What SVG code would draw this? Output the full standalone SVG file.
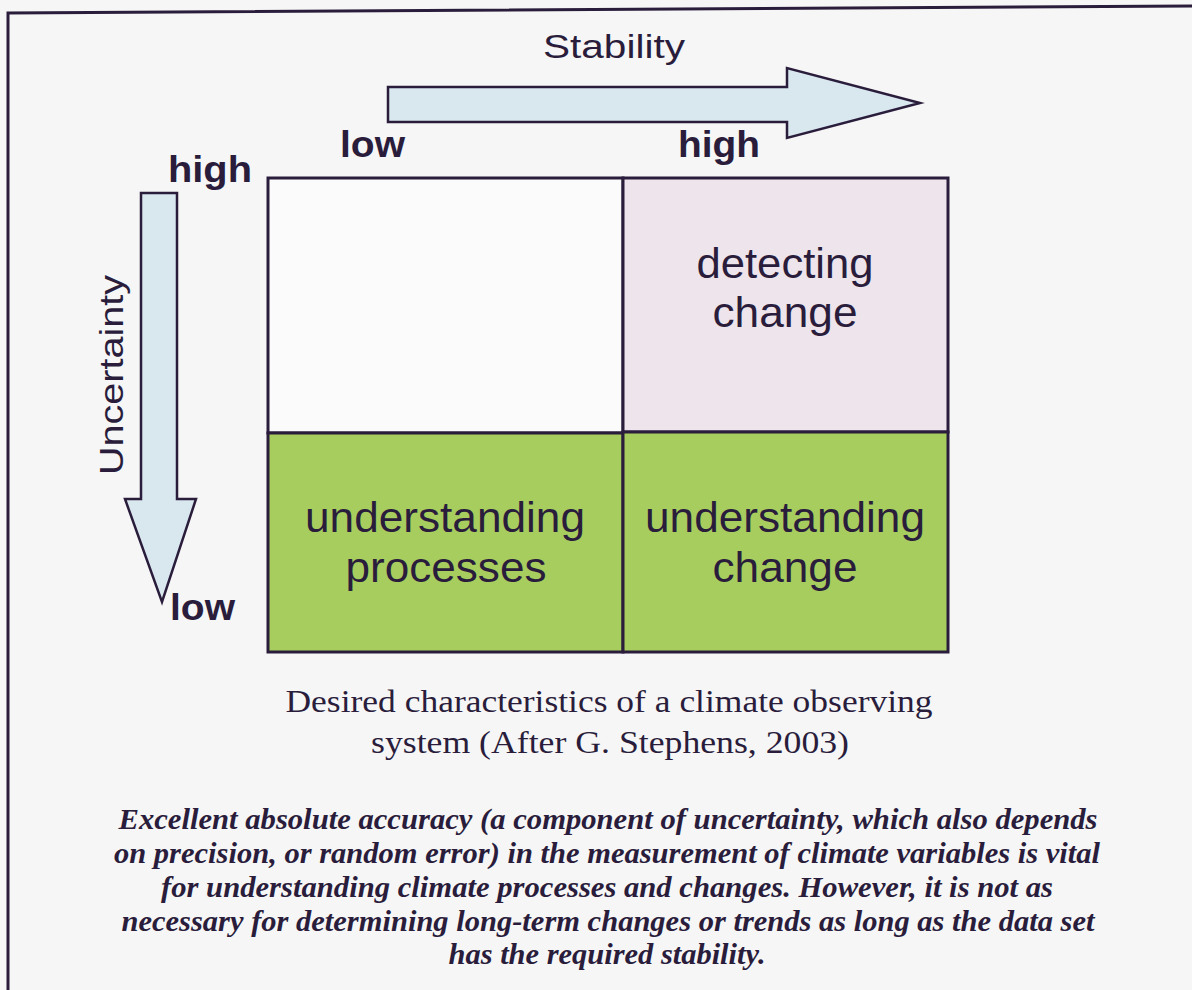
<svg xmlns="http://www.w3.org/2000/svg" width="1192" height="990" viewBox="0 0 1192 990">
<style>
.t{fill:#2a1d3c;font-family:"Liberation Sans",Arial,sans-serif}
.b{font-weight:bold;font-size:37px}
.c{font-size:42px;text-anchor:middle}
.s{font-family:"Liberation Serif","Times New Roman",serif;fill:#2a1d3c;text-anchor:middle}
.cap{font-size:32px}
.it{font-size:30px;font-style:italic;font-weight:bold}
.cell{stroke:#2a1d3c;stroke-width:3}
.arr{fill:#d9e7ee;stroke:#2a1d3c;stroke-width:2.5;stroke-linejoin:miter}
</style>
<rect width="1192" height="990" fill="#f6f6f6"/>
<path d="M8,990 L8,13 L1192,6" fill="none" stroke="#2a1d3c" stroke-width="3"/>
<g id="stability-arrow">
<path class="arr" d="M388,87 L787,87 L787,68 L920,103 L787,138 L787,122 L388,122 Z"/>
<text class="t" x="614" y="58" font-size="34" text-anchor="middle" textLength="142" lengthAdjust="spacingAndGlyphs">Stability</text>
<text class="t b" x="340" y="157" textLength="65" lengthAdjust="spacingAndGlyphs">low</text>
<text class="t b" x="678" y="157" textLength="82" lengthAdjust="spacingAndGlyphs">high</text>
</g>
<g id="uncertainty-arrow">
<path class="arr" d="M141,193 L177,193 L177,499 L196,499 L162,602 L125,499 L141,499 Z"/>
<text class="t" transform="translate(123,375) rotate(-90)" font-size="34" text-anchor="middle" textLength="200" lengthAdjust="spacingAndGlyphs">Uncertainty</text>
<text class="t b" x="168" y="182" textLength="84" lengthAdjust="spacingAndGlyphs">high</text>
<text class="t b" x="170" y="620" textLength="65" lengthAdjust="spacingAndGlyphs">low</text>
</g>
<g id="cell-empty">
<rect class="cell" x="268" y="178" width="355" height="255" fill="#fbfbfb"/>
</g>
<g id="cell-detecting">
<rect class="cell" x="623" y="178" width="325" height="254" fill="#ede4ec"/>
<text class="t c" x="785" y="278" textLength="177" lengthAdjust="spacingAndGlyphs">detecting</text>
<text class="t c" x="785" y="327" textLength="145" lengthAdjust="spacingAndGlyphs">change</text>
</g>
<g id="cell-processes">
<rect class="cell" x="268" y="433" width="355" height="219" fill="#a8cd5f"/>
<text class="t c" x="445" y="532" textLength="280" lengthAdjust="spacingAndGlyphs">understanding</text>
<text class="t c" x="446" y="582" textLength="201" lengthAdjust="spacingAndGlyphs">processes</text>
</g>
<g id="cell-change">
<rect class="cell" x="623" y="432" width="325" height="220" fill="#a8cd5f"/>
<text class="t c" x="785" y="532" textLength="280" lengthAdjust="spacingAndGlyphs">understanding</text>
<text class="t c" x="785" y="582" textLength="145" lengthAdjust="spacingAndGlyphs">change</text>
</g>
<g id="caption">
<text class="s cap" x="609" y="712" textLength="647" lengthAdjust="spacingAndGlyphs">Desired characteristics of a climate observing</text>
<text class="s cap" x="610" y="753" textLength="478" lengthAdjust="spacingAndGlyphs">system (After G. Stephens, 2003)</text>
</g>
<g id="note">
<text class="s it" x="608" y="829" textLength="979" lengthAdjust="spacingAndGlyphs">Excellent absolute accuracy (a component of uncertainty, which also depends</text>
<text class="s it" x="607" y="863" textLength="986" lengthAdjust="spacingAndGlyphs">on precision, or random error) in the measurement of climate variables is vital</text>
<text class="s it" x="607" y="897" textLength="892" lengthAdjust="spacingAndGlyphs">for understanding climate processes and changes. However, it is not as</text>
<text class="s it" x="608" y="931" textLength="973" lengthAdjust="spacingAndGlyphs">necessary for determining long-term changes or trends as long as the data set</text>
<text class="s it" x="607" y="964" textLength="317" lengthAdjust="spacingAndGlyphs">has the required stability.</text>
</g>
</svg>
